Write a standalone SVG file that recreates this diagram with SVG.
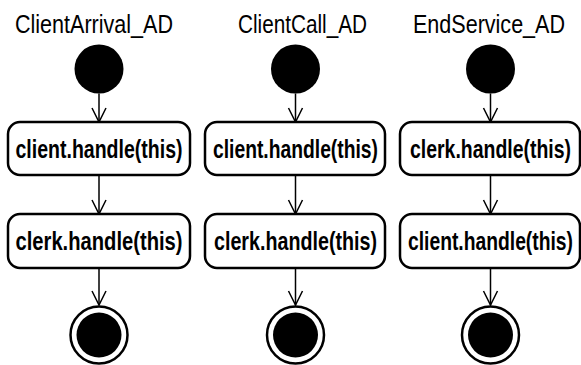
<svg xmlns="http://www.w3.org/2000/svg" width="581" height="365" viewBox="0 0 581 365">
<defs>
<marker id="arr" viewBox="-15 -8 16 16" refX="0" refY="0" markerWidth="16" markerHeight="16" markerUnits="userSpaceOnUse" orient="auto" overflow="visible">
<path d="M-14,-7 L0,0 L-14,7" fill="none" stroke="#000" stroke-width="1.5"/>
</marker>
</defs>
<style>
.title{font-family:"Liberation Sans",Arial,sans-serif;font-size:21.5px;fill:#000}
.lbl{font-family:"Liberation Sans",Arial,sans-serif;font-size:20px;font-weight:bold;fill:#000}
.box{fill:#fff;stroke:#000;stroke-width:2.5}
.start{fill:#000}
.endo{fill:#fff;stroke:#000;stroke-width:2.5}
.endi{fill:#000}
.conn{stroke:#000;stroke-width:1.5;fill:none;marker-end:url(#arr)}
</style>
<rect width="581" height="365" fill="#fff"/>
<g id="titles">
<text id="t1" class="title" transform="translate(15,33) scale(1,1.16)" textLength="158" lengthAdjust="spacingAndGlyphs">ClientArrival_AD</text>
<text id="t2" class="title" transform="translate(238,33) scale(1,1.16)" textLength="129" lengthAdjust="spacingAndGlyphs">ClientCall_AD</text>
<text id="t3" class="title" transform="translate(413,33) scale(1,1.16)" textLength="152" lengthAdjust="spacingAndGlyphs">EndService_AD</text>
</g>
<g id="connectors">
<line class="conn" x1="99" y1="93.5" x2="99" y2="122"/>
<line class="conn" x1="99" y1="175" x2="99" y2="214"/>
<line class="conn" x1="99" y1="268" x2="99" y2="305"/>
<line class="conn" x1="295.5" y1="93.5" x2="295.5" y2="122"/>
<line class="conn" x1="295.5" y1="175" x2="295.5" y2="214"/>
<line class="conn" x1="295.5" y1="268" x2="295.5" y2="305"/>
<line class="conn" x1="490.5" y1="93.5" x2="490.5" y2="122"/>
<line class="conn" x1="490.5" y1="175" x2="490.5" y2="214"/>
<line class="conn" x1="490.5" y1="268" x2="490.5" y2="305"/>
</g>
<g id="c1_start"><circle class="start" cx="99" cy="69" r="24.5"/></g>
<g id="c1_a1"><rect class="box" x="8" y="122" width="182" height="53" rx="12"/><text class="lbl" transform="translate(99,158) scale(1,1.3)" text-anchor="middle" textLength="167" lengthAdjust="spacingAndGlyphs">client.handle(this)</text></g>
<g id="c1_a2"><rect class="box" x="8" y="214" width="182" height="54" rx="12"/><text class="lbl" transform="translate(99,250) scale(1,1.3)" text-anchor="middle" textLength="167" lengthAdjust="spacingAndGlyphs">clerk.handle(this)</text></g>
<g id="c1_end"><circle class="endo" cx="99" cy="335" r="28.5"/><circle class="endi" cx="99" cy="335" r="22.5"/></g>
<g id="c2_start"><circle class="start" cx="295.5" cy="69" r="24.5"/></g>
<g id="c2_a1"><rect class="box" x="205" y="122" width="180" height="53" rx="12"/><text class="lbl" transform="translate(295.5,158) scale(1,1.3)" text-anchor="middle" textLength="165" lengthAdjust="spacingAndGlyphs">client.handle(this)</text></g>
<g id="c2_a2"><rect class="box" x="205" y="214" width="180" height="54" rx="12"/><text class="lbl" transform="translate(295.5,250) scale(1,1.3)" text-anchor="middle" textLength="163" lengthAdjust="spacingAndGlyphs">clerk.handle(this)</text></g>
<g id="c2_end"><circle class="endo" cx="295.5" cy="335" r="28.5"/><circle class="endi" cx="295.5" cy="335" r="22.5"/></g>
<g id="c3_start"><circle class="start" cx="490.5" cy="69" r="24.5"/></g>
<g id="c3_a1"><rect class="box" x="400" y="122" width="180" height="53" rx="12"/><text class="lbl" transform="translate(490.5,158) scale(1,1.3)" text-anchor="middle" textLength="161" lengthAdjust="spacingAndGlyphs">clerk.handle(this)</text></g>
<g id="c3_a2"><rect class="box" x="400" y="214" width="180" height="54" rx="12"/><text class="lbl" transform="translate(490.5,250) scale(1,1.3)" text-anchor="middle" textLength="165" lengthAdjust="spacingAndGlyphs">client.handle(this)</text></g>
<g id="c3_end"><circle class="endo" cx="490.5" cy="335" r="28.5"/><circle class="endi" cx="490.5" cy="335" r="22.5"/></g>
</svg>
